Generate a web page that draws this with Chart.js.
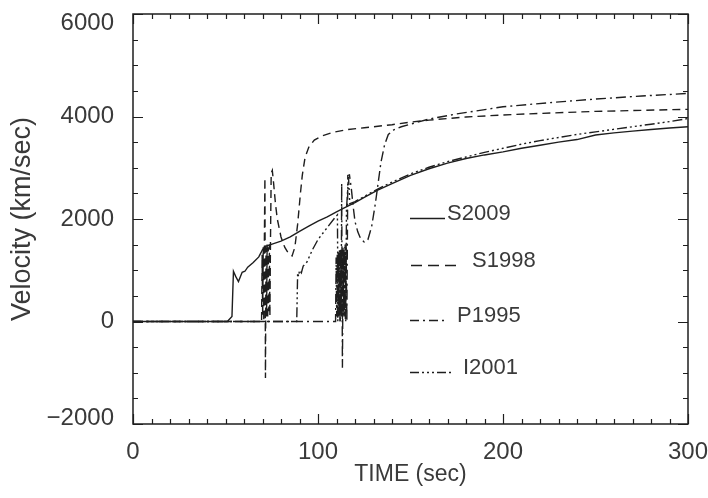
<!DOCTYPE html>
<html><head><meta charset="utf-8">
<script src="https://cdn.jsdelivr.net/npm/chart.js@4/dist/chart.umd.min.js"></script>
<style>html,body{margin:0;padding:0;background:#fff}</style>
</head><body>
<canvas id="c" width="708" height="498"></canvas>
<script>
// ---- data ----
const xTickValues = [0, 100, 200, 300];
const yTickValues = [-2000, 0, 2000, 4000, 6000];
const xMinorStep = 10;
const yMinorStep = 500;
const seriesNames = ['S2009', 'S1998', 'P1995', 'I2001'];

const s2009T = [0,51,53.5,54.3,55.5,57,59,60.5,62,65,68,70,72,76,80,85,90,95,100,105,110,115,120,125,132,140,150,160,170,180,190,200,210,220,230,240,250,260,270,280,290,300];
const s2009V = [0,0,100,980,880,780,960,980,1060,1150,1260,1400,1470,1520,1570,1650,1760,1860,1960,2040,2140,2230,2320,2420,2560,2690,2850,2980,3090,3180,3250,3310,3380,3440,3500,3550,3640,3680,3715,3745,3775,3800];

const s1998T = [0,69.5,69.8,70.1,70.4,70.7,71.0,71.3,71.6,71.9,72.2,72.5,72.8,73.1,73.4,73.7,74.0,74.3,74.7,75.3,76,77,78,80,82,84,86,87.5,89,90.5,91.5,93,95,98,102,108,115,125,140,150,160,180,200,220,250,275,300];
const s1998V = [0,0,1300,100,1450,0,1500,2800,-1100,1450,100,1500,50,1450,200,1500,100,1500,2900,2950,2700,2300,2000,1650,1450,1330,1280,1450,1900,2500,2850,3200,3400,3540,3620,3690,3740,3780,3840,3890,3930,3990,4030,4060,4100,4120,4140];

const p1995T = [0,109.5,109.8,110.1,110.4,110.7,111,111.3,111.6,111.9,112.2,112.5,112.8,113.2,113.6,114,114.4,114.8,115.2,115.6,116.1,117,118,119,120,121.5,123,125,127,129,131,132.5,134,136,138,141,145,150,160,175,200,225,250,275,300];
const p1995V = [0,0,1250,100,1300,0,1350,100,1400,0,1400,100,2700,-900,1400,100,1450,50,1500,0,2850,2860,2600,2250,1950,1750,1620,1550,1600,1850,2300,2700,3100,3450,3650,3740,3800,3850,3950,4050,4190,4270,4340,4400,4450];

const i2001T = [0,88.5,89,89.5,90,91,92,94,97,100,103,106,109,110.5,110.8,111.1,111.4,111.7,112,112.3,112.6,112.9,113.2,113.5,113.8,114.1,114.4,114.7,115,115.4,116.5,117.2,120,125,132,140,150,160,170,180,190,200,210,220,230,240,250,260,270,280,290,300];
const i2001V = [0,0,950,880,1000,950,1080,1160,1400,1600,1740,1880,2020,2080,300,1300,100,1350,0,1400,150,1400,50,1450,200,1400,100,1500,0,2200,2820,2300,2340,2440,2580,2720,2880,3010,3120,3210,3300,3380,3460,3530,3590,3650,3700,3750,3800,3850,3900,3960];

// ---- styling ----
const INK = '#1e1e1e';
const TXT = '#3a3a3a';
const FONT = 'Liberation Sans';
const dashes = [[], [8, 5], [10, 4, 2, 4], [10, 3, 2, 3, 2, 3, 2, 3]];
const legendDashes = [[], [11, 6], [9, 4, 2, 4], [9, 3, 2, 3, 2, 3, 2, 3]];

function pts(T, V) { return T.map((t, i) => ({x: t, y: V[i]})); }
const allT = [s2009T, s1998T, p1995T, i2001T];
const allV = [s2009V, s1998V, p1995V, i2001V];

const datasets = seriesNames.map((n, i) => ({
  label: n,
  data: pts(allT[i], allV[i]),
  borderColor: INK,
  borderWidth: 1.4,
  borderDash: dashes[i],
  pointRadius: 0,
  tension: 0,
  fill: false
}));

const framePlugin = {
  id: 'frame',
  beforeDraw(chart) {
    const ys = chart.scales.y;
    const items = ys.getLabelItems();
    items.forEach(it => {
      const shift = it.label === '6000' ? 9 : (it.label === '\u22122000' ? -6 : 0);
      if (shift) {
        if (it.options && it.options.translation) it.options.translation[1] += shift;
        else if (it.y !== undefined) it.y += shift;
      }
    });
  },
  afterDatasetsDraw(chart) {
    const {ctx, chartArea: a} = chart;
    const xs = chart.scales.x, ys = chart.scales.y;
    ctx.save();
    ctx.strokeStyle = INK;
    ctx.lineWidth = 1.5;
    ctx.setLineDash([]);
    ctx.strokeRect(a.left, a.top, a.right - a.left, a.bottom - a.top);
    ctx.lineWidth = 1.2;
    ctx.beginPath();
    for (let v = xs.min; v <= xs.max + 1e-9; v += xMinorStep) {
      const p = Math.round(xs.getPixelForValue(v)) + 0.5;
      const L = xTickValues.includes(v) ? 10 : 5;
      ctx.moveTo(p, a.bottom); ctx.lineTo(p, a.bottom - L);
      ctx.moveTo(p, a.top); ctx.lineTo(p, a.top + L);
    }
    for (let v = ys.min; v <= ys.max + 1e-9; v += yMinorStep) {
      const p = Math.round(ys.getPixelForValue(v)) + 0.5;
      const L = yTickValues.includes(v) ? 10 : 5;
      ctx.moveTo(a.left, p); ctx.lineTo(a.left + L, p);
      ctx.moveTo(a.right, p); ctx.lineTo(a.right - L, p);
    }
    ctx.stroke();

    // legend inside plot
    const rows = [
      {y: 218, x0: 410, x1: 445, tx: 447},
      {y: 265, x0: 411, x1: 458, tx: 472},
      {y: 320, x0: 410, x1: 444, tx: 457},
      {y: 372, x0: 410, x1: 453, tx: 463}
    ];
    ctx.font = '22px "' + FONT + '"';
    ctx.fillStyle = TXT;
    ctx.textBaseline = 'alphabetic';
    ctx.textAlign = 'left';
    rows.forEach((r, i) => {
      ctx.beginPath();
      ctx.lineWidth = 1.4;
      ctx.setLineDash(legendDashes[i]);
      ctx.moveTo(r.x0, r.y + 0.5); ctx.lineTo(r.x1, r.y + 0.5);
      ctx.stroke();
      ctx.setLineDash([]);
      ctx.fillText(seriesNames[i], r.tx, r.y + 2);
    });
    ctx.restore();
  }
};

new Chart(document.getElementById('c'), {
  type: 'line',
  data: {datasets},
  options: {
    responsive: false,
    animation: false,
    events: [],
    layout: {padding: {top: 14, right: 20, left: 0, bottom: 0}},
    plugins: {legend: {display: false}, tooltip: {enabled: false}},
    scales: {
      x: {
        type: 'linear', min: 0, max: 300,
        afterBuildTicks: s => { s.ticks = xTickValues.map(v => ({value: v})); },
        ticks: {color: TXT, font: {family: FONT, size: 24}, padding: 6, maxRotation: 0},
        grid: {display: false},
        border: {display: false},
        title: {display: true, text: 'TIME (sec)', color: TXT, font: {family: FONT, size: 23}, padding: {top: 0, bottom: 10}},
        afterFit: s => { s.height = 74; s.paddingLeft = 0; s.paddingRight = 0; }
      },
      y: {
        type: 'linear', min: -2000, max: 6000,
        afterBuildTicks: s => { s.ticks = yTickValues.map(v => ({value: v})); },
        ticks: {color: TXT, font: {family: FONT, size: 24}, padding: 11,
          callback: v => String(v).replace('-', '\u2212')},
        grid: {display: false},
        border: {display: false},
        title: {display: true, text: 'Velocity (km/sec)', color: TXT, font: {family: FONT, size: 27}, padding: {top: 6, bottom: 0}},
        afterFit: s => { s.width = 133; s.paddingTop = 0; s.paddingBottom = 0; }
      }
    }
  },
  plugins: [framePlugin]
});
</script>
</body></html>
